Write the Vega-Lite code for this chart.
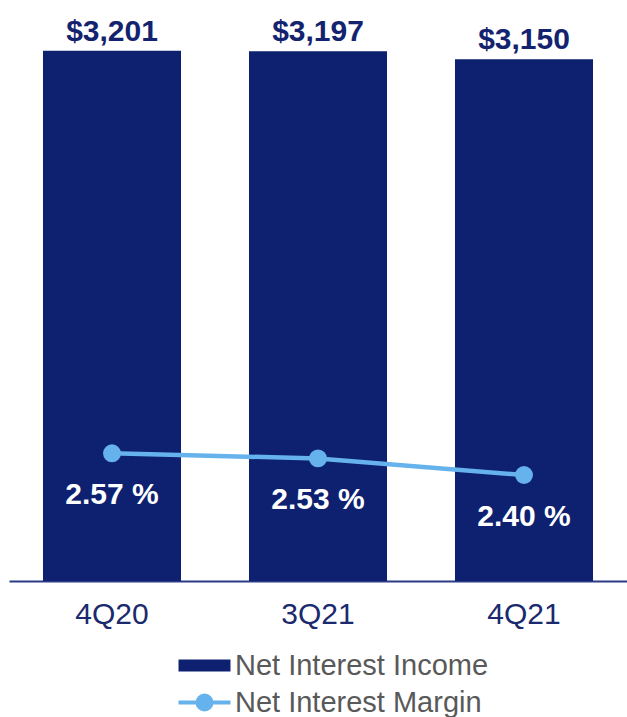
{
  "$schema": "https://vega.github.io/schema/vega-lite/v6.json",
  "width": 618,
  "height": 581,
  "autosize": "none",
  "padding": {"left": 9, "top": 0, "right": 0, "bottom": 136},
  "background": "white",
  "config": {"view": {"stroke": null}, "font": "Liberation Sans"},
  "data": {
    "values": [
      {"q": "4Q20", "nii": 3201, "nim": 2.57},
      {"q": "3Q21", "nii": 3197, "nim": 2.53},
      {"q": "4Q21", "nii": 3150, "nim": 2.40}
    ]
  },
  "transform": [{"calculate": "format(datum.nim, '.2f') + ' %'", "as": "nim_label"}],
  "encoding": {
    "x": {
      "field": "q",
      "type": "nominal",
      "sort": null,
      "scale": {"paddingInner": 0.33, "paddingOuter": 0.165},
      "axis": {
        "title": null,
        "labelAngle": 0,
        "labelFontSize": 30,
        "labelColor": "#1B2A6E",
        "labelFont": "Liberation Sans",
        "labelBaseline": "alphabetic",
        "labelPadding": 42,
        "ticks": false,
        "tickSize": 0,
        "domainColor": "#2A3A85",
        "domainWidth": 2,
        "grid": false
      }
    }
  },
  "layer": [
    {
      "encoding": {
        "y": {"field": "nii", "type": "quantitative", "scale": {"domain": [0, 3507]}, "axis": null}
      },
      "layer": [
        {
          "mark": {"type": "bar"},
          "encoding": {
            "color": {
              "datum": "Net Interest Income",
              "type": "nominal",
              "scale": {"domain": ["Net Interest Income", "Net Interest Margin"], "range": ["#0D2170", "#66B2EC"]},
              "legend": {
                "orient": "none",
                "legendX": 181,
                "legendY": 651,
                "direction": "vertical",
                "title": null,
                "labelFontSize": 29,
                "labelColor": "#595959",
                "labelFont": "Liberation Sans",
                "symbolSize": 2700,
                "labelOffset": 16,
                "padding": 0,
                "labelLimit": 400,
                "rowPadding": 6,
                "encode": {
                  "symbols": {
                    "update": {
                      "shape": {"signal": "datum.value === 'Net Interest Income' ? 'M-1,-0.23H1V0.23H-1Z' : 'M-1,0H1M-0.27,0A0.27,0.27,0,1,1,0.27,0A0.27,0.27,0,1,1,-0.27,0Z'"},
                      "fill": {"signal": "datum.value === 'Net Interest Income' ? '#0D2170' : '#66B2EC'"},
                      "stroke": {"signal": "datum.value === 'Net Interest Income' ? '#0D2170' : '#66B2EC'"},
                      "strokeWidth": {"signal": "datum.value === 'Net Interest Income' ? 0 : 4"},
                      "opacity": {"value": 1}
                    }
                  }
                }
              }
            }
          }
        },
        {
          "mark": {"type": "text", "baseline": "alphabetic", "dy": -10, "fontSize": 30, "fontWeight": "bold", "color": "#13236F", "font": "Liberation Sans"},
          "encoding": {
            "text": {"field": "nii", "type": "quantitative", "format": "$,.0f"}
          }
        }
      ]
    },
    {
      "encoding": {
        "y": {"field": "nim", "type": "quantitative", "scale": {"domain": [1.57, 6.12]}, "axis": null}
      },
      "layer": [
        {
          "mark": {"type": "line", "strokeWidth": 4.5, "point": {"filled": true, "size": 320, "opacity": 1}},
          "encoding": {
            "color": {"datum": "Net Interest Margin", "type": "nominal"}
          }
        },
        {
          "mark": {"type": "text", "baseline": "alphabetic", "dy": 51, "fontSize": 30, "fontWeight": "bold", "color": "white", "font": "Liberation Sans"},
          "encoding": {
            "text": {"field": "nim_label", "type": "nominal"}
          }
        }
      ]
    }
  ],
  "resolve": {"scale": {"y": "independent"}}
}
